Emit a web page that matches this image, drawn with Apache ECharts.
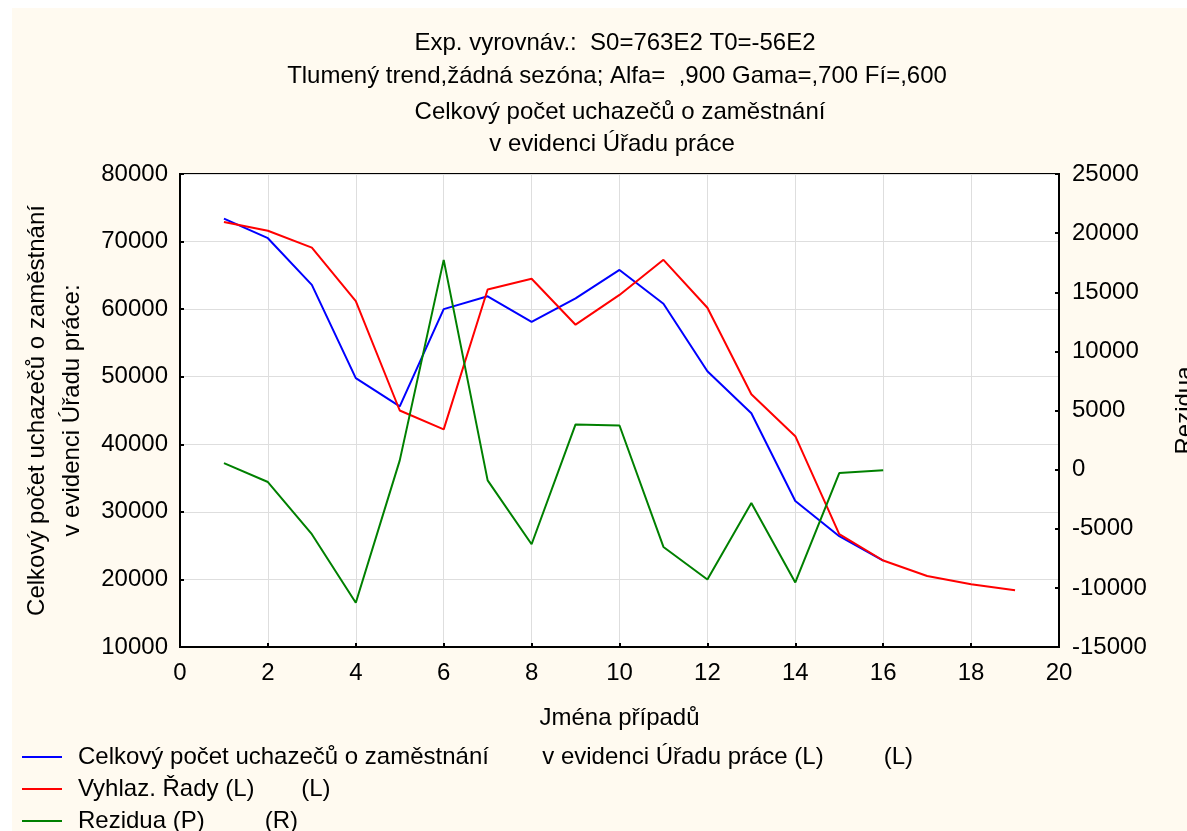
<!DOCTYPE html>
<html>
<head>
<meta charset="utf-8">
<script src="https://cdn.jsdelivr.net/npm/echarts@6/dist/echarts.min.js"></script>
<style>
  html, body { margin: 0; padding: 0; background: #fff; }
  #main { width: 1187px; height: 831px; }
</style>
</head>
<body>
<div id="main"></div>
<script>
// cisla pripadu
var caseNo = [1, 2, 3, 4, 5, 6, 7, 8, 9, 10, 11, 12, 13, 14, 15, 16, 17, 18, 19];
// Celkovy pocet uchazecu (L)
var uchazeci = [73400, 70500, 63600, 49800, 45600, 60000, 61900, 58100, 61600, 65800,
                60800, 50800, 44600, 31600, 26400, 22800];
// Vyhlazene rady (L)
var vyhlazeni = [72900, 71600, 69100, 61200, 45000, 42200, 62900, 64500, 57700, 62100,
                 67300, 60200, 47400, 41200, 26700, 22800, 20500, 19300, 18400];
// Rezidua (R)
var rezidua = [550, -1050, -5460, -11260, 780, 17740, -910, -6310, 3820, 3730,
               -6540, -9290, -2820, -9540, -290, -60];

var names = [
  'Celkový počet uchazečů o zaměstnání        v evidenci Úřadu práce (L)         (L)',
  'Vyhlaz. Řady (L)       (L)',
  'Rezidua (P)         (R)'
];

function pairs(vals) {
  return vals.map(function (v, i) { return [caseNo[i], v]; });
}
function plain(v) { return String(v); }

var FONT = 'Liberation Sans, Arial, sans-serif';
var FS = 24;

function line(txt, x, y) {
  return {
    type: 'text', x: x, y: y,
    style: {
      text: txt, font: FS + 'px ' + FONT, fill: '#000',
      textAlign: 'center', textVerticalAlign: 'middle', align: 'center', verticalAlign: 'middle'
    }
  };
}

var chart = echarts.init(document.getElementById('main'));
chart.setOption({
  backgroundColor: '#ffffff',
  animation: false,
  textStyle: { fontFamily: FONT, color: '#000' },
  graphic: [
    { type: 'rect', z: -10, shape: { x: 12, y: 8, width: 1200, height: 840 }, style: { fill: '#fffaf0' } },
    line('Exp. vyrovnáv.:  S0=763E2 T0=-56E2', 615, 43),
    line('Tlumený trend,žádná sezóna; Alfa=  ,900 Gama=,700 Fí=,600', 617, 76),
    line('Celkový počet uchazečů o zaměstnání', 620, 112),
    line('v evidenci Úřadu práce', 612, 144)
  ],
  grid: {
    left: 180, right: 128, top: 174, bottom: 184,
    containLabel: false, outerBoundsMode: 'none',
    show: true, backgroundColor: '#ffffff', borderColor: '#000', borderWidth: 2
  },
  legend: {
    orient: 'vertical', left: 22, top: 745, padding: 0, height: 90,
    itemWidth: 40, itemHeight: 2, itemGap: 8, icon: 'rect',
    textStyle: { fontFamily: FONT, fontSize: FS, lineHeight: 22, color: '#000', padding: [0, 0, 0, 11] },
    data: names
  },
  xAxis: {
    type: 'value', min: 0, max: 20, interval: 2,
    name: 'Jména případů', nameLocation: 'middle', nameGap: 59,
    nameTextStyle: { fontSize: FS, color: '#000' },
    axisLine: { onZero: false, lineStyle: { color: '#000', width: 2 } },
    axisTick: { inside: true, length: 4, lineStyle: { color: '#000', width: 2 } },
    axisLabel: { fontSize: FS, color: '#000', margin: 14, formatter: plain },
    splitLine: { lineStyle: { color: '#dedede', width: 1 } }
  },
  yAxis: [
    {
      type: 'value', min: 10000, max: 80000, interval: 10000,
      name: 'Celkový počet uchazečů o zaměstnání\nv evidenci Úřadu práce:',
      nameLocation: 'middle', nameRotate: 90, nameGap: 88,
      nameTextStyle: { fontSize: FS, color: '#000', lineHeight: 35 },
      axisLine: { show: true, onZero: false, lineStyle: { color: '#000', width: 2 } },
      axisTick: { show: true, inside: true, length: 4, lineStyle: { color: '#000', width: 2 } },
      axisLabel: { fontSize: FS, color: '#000', margin: 12, formatter: plain },
      splitLine: { lineStyle: { color: '#dedede', width: 1 } }
    },
    {
      type: 'value', min: -15000, max: 25000, interval: 5000, position: 'right',
      name: 'Rezidua', nameLocation: 'middle', nameRotate: 90, nameGap: 114,
      nameTextStyle: { fontSize: FS, color: '#000' },
      axisLine: { show: true, onZero: false, lineStyle: { color: '#000', width: 2 } },
      axisTick: { show: true, inside: true, length: 4, lineStyle: { color: '#000', width: 2 } },
      axisLabel: { fontSize: FS, color: '#000', margin: 13, formatter: plain },
      splitLine: { show: false }
    }
  ],
  series: [
    {
      name: names[0], type: 'line', yAxisIndex: 0, data: pairs(uchazeci),
      showSymbol: false, symbol: 'none', color: '#0000ff',
      lineStyle: { color: '#0000ff', width: 2 }
    },
    {
      name: names[1], type: 'line', yAxisIndex: 0, data: pairs(vyhlazeni),
      showSymbol: false, symbol: 'none', color: '#ff0000',
      lineStyle: { color: '#ff0000', width: 2 }
    },
    {
      name: names[2], type: 'line', yAxisIndex: 1, data: pairs(rezidua),
      showSymbol: false, symbol: 'none', color: '#008000',
      lineStyle: { color: '#008000', width: 2 }
    }
  ]
});
</script>
</body>
</html>
